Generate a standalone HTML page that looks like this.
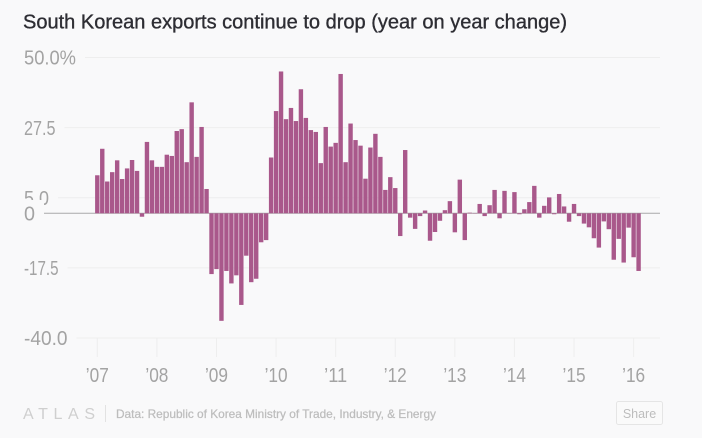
<!DOCTYPE html>
<html lang="en">
<head>
<meta charset="utf-8">
<title>South Korean exports continue to drop</title>
<style>
  html, body { margin: 0; padding: 0; background: #f9f9fa; }
  body { width: 702px; height: 438px; overflow: hidden; }
  svg { display: block; font-family: "Liberation Sans", sans-serif; }
</style>
</head>
<body>
<svg id="chart" width="702" height="438" viewBox="0 0 702 438" xmlns="http://www.w3.org/2000/svg">
  <rect x="0" y="0" width="702" height="438" fill="#f9f9fa"/>
  <text x="23" y="28.5" font-size="20" fill="#2d2d33" stroke="#2d2d33" stroke-width="0.35" textLength="544" lengthAdjust="spacingAndGlyphs">South Korean exports continue to drop (year on year change)</text>
  <g id="grid"></g>
  <g id="xticks"></g>
  <g id="ylabels"></g>
  <g id="bars"></g>
  <text x="23" y="419" font-size="16" fill="#cfcfcf" textLength="72" lengthAdjust="spacing">ATLAS</text>
  <line x1="105.5" x2="105.5" y1="405" y2="422" stroke="#e2e2e2" stroke-width="1"/>
  <text x="116" y="418" font-size="12" fill="#bdbdbd" stroke="#bdbdbd" stroke-width="0.25" textLength="320" lengthAdjust="spacingAndGlyphs">Data: Republic of Korea Ministry of Trade, Industry, &amp; Energy</text>
  <g>
    <rect x="616.5" y="401.5" width="46" height="23" rx="2" fill="#fafafa" stroke="#e5e5e5"/>
    <text x="639.5" y="418" font-size="12.5" fill="#bdbdbd" text-anchor="middle">Share</text>
  </g>
</svg>
<script>
const startYear = 2007;
const yearLabels = ["’07", "’08", "’09", "’10", "’11", "’12", "’13", "’14", "’15", "’16"];
const yTickValues = [50, 27.5, 5, 0, -17.5, -40];
const yTickLabels = ["50.0%", "27.5", "5.0", "0", "-17.5", "-40.0"];
const values2007 = [12.2, 20.7, 10.2, 13.2, 17, 11, 14.4, 17.1, 13.6, -1.1, 22.9, 17];
const values2008 = [14.9, 14.9, 18.8, 18.4, 26.4, 27, 16.4, 35.6, 18.1, 27.7, 7.8, -19.5];
const values2009 = [-17.9, -34.5, -18.5, -22.5, -19.9, -29.4, -13.6, -22.1, -21, -9.3, -8.6, 17.9];
const values2010 = [32.8, 45.5, 30.2, 33.8, 29.6, 39.8, 30.6, 26.7, 26.1, 16.1, 27.7, 21.4];
const values2011 = [22.6, 44.7, 16.4, 28.8, 23.5, 21.7, 11.1, 21.1, 25.5, 18.1, 7.5, 11.6];
const values2012 = [8.1, -7.3, 20.3, -1.4, -5, -0.9, 0.9, -8.8, -6, -2.4, 1, 3.9];
const values2013 = [-6.1, 10.8, -8.6, 0.2, 0.1, 3, -0.9, 2.6, 7.5, -1.6, 7.2, 0.1];
const values2014 = [6.8, -0.3, 1.3, 3.6, 8.8, -1.4, 2.4, 5.1, -0.3, 6.2, 2.2, -2.7];
const values2015 = [3, -0.9, -3.3, -4.5, -8, -11, -2.6, -5.1, -14.9, -8.2, -15.8, -4.6];
const values2016 = [-14.1, -18.5];

const exportValues = [].concat(values2007, values2008, values2009, values2010, values2011,
  values2012, values2013, values2014, values2015, values2016);

const NS = "http://www.w3.org/2000/svg";
const gridG = document.getElementById("grid");
const xG = document.getElementById("xticks");
const yG = document.getElementById("ylabels");
const barsG = document.getElementById("bars");

function xScale(i) { return 97.3 + i * 4.966; }
function yScale(v) { return 213.3 - v * 3.117; }

function glyphWidth(label) {
  const adv = { "0": 11, "1": 6.5, "2": 9.5, "4": 11, "5": 9.5, "7": 8, ".": 4.5, "-": 6, "%": 16 };
  let w = 0;
  for (const c of label) { w += adv[c] || 10; }
  return w;
}

function make(tag, attrs, parent) {
  const el = document.createElementNS(NS, tag);
  for (const k in attrs) { el.setAttribute(k, attrs[k]); }
  parent.appendChild(el);
  return el;
}

yTickValues.forEach(function (v, i) {
  const label = yTickLabels[i];
  const w = glyphWidth(label);
  const y = yScale(v);
  const isZero = v === 0;
  const line = make("line", {
    x1: 24 + w + 9, x2: 660, y1: y, y2: y,
    stroke: isZero ? "#a9a9a9" : "#eeeeee", "stroke-width": 1
  }, isZero ? barsG : gridG);
  
  
});

yTickValues.forEach(function (v, i) {
  const label = yTickLabels[i];
  const y = yScale(v);
  if (v === 0) {
    const mask = make("rect", { x: 20, y: y - 13.3, width: 24, height: 26, fill: "#f9f9fa" }, yG);
    
    
  }
  const t = make("text", {
    x: 24, y: y + 7.2, "font-size": 20.5, fill: "#a3a3a3",
    textLength: glyphWidth(label), lengthAdjust: "spacingAndGlyphs"
  }, yG);
  t.textContent = label;
  
  
});

yearLabels.forEach(function (label, i) {
  const x = xScale(i * 12);
  const tick = make("line", { x1: x, x2: x, y1: 338, y2: 357, stroke: "#eeeeee", "stroke-width": 1 }, xG);
  
  
  const t = make("text", {
    x: x, y: 382, "font-size": 20.5, fill: "#a3a3a3", "text-anchor": "middle",
    textLength: 23, lengthAdjust: "spacingAndGlyphs"
  }, xG);
  t.textContent = label;
  
  
});

exportValues.forEach(function (v, i) {
  const y0 = yScale(0);
  const y1 = yScale(v);
  const r = make("rect", {
    x: xScale(i) - 2.2, width: 4.4,
    y: Math.min(y0, y1), height: Math.abs(y1 - y0),
    fill: "#a9588b"
  }, barsG);
  
  
});
</script>
</body>
</html>
